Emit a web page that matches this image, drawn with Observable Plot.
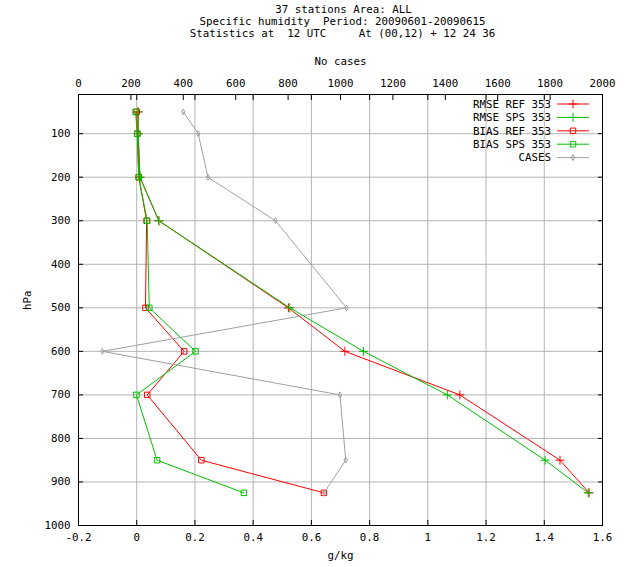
<!DOCTYPE html>
<html>
<head>
<meta charset="utf-8">
<script src="https://cdn.jsdelivr.net/npm/d3@7"></script>
<script src="https://cdn.jsdelivr.net/npm/@observablehq/plot@0.6"></script>
<style>
  html, body { margin: 0; padding: 0; background: #fff; }
  svg { display: block; }
</style>
</head>
<body>
<div id="chart"></div>
<script>
// ---- Data ----
const levels   = [50, 100, 200, 300, 500, 600, 700, 850, 925];           // hPa
const rmseRef  = [0.005, 0.005, 0.011, 0.076, 0.521, 0.715, 1.110, 1.454, 1.554];
const rmseSps  = [0.005, 0.005, 0.011, 0.076, 0.526, 0.779, 1.067, 1.403, 1.551];
const biasRef  = [0.000, 0.002, 0.007, 0.034, 0.030, 0.163, 0.036, 0.222, 0.643];
const biasSps  = [-0.004, 0.002, 0.007, 0.036, 0.043, 0.202, -0.001, 0.070, 0.368];
const cases    = [400, 457, 494, 752, 1023, 91, 998, 1020, 937];

const seriesNames  = ["RMSE REF 353", "RMSE SPS 353", "BIAS REF 353", "BIAS SPS 353"];
const casesName    = "CASES";
const titleLines   = ["37 stations Area: ALL",
                      "Specific humidity  Period: 20090601-20090615",
                      "Statistics at  12 UTC     At (00,12) + 12 24 36"];
const xLabel  = "g/kg";
const x2Label = "No cases";
const yLabel  = "hPa";

const xTicks     = [-0.2, 0, 0.2, 0.4, 0.6, 0.8, 1, 1.2, 1.4, 1.6];
const xTickText  = ["-0.2", "0", "0.2", "0.4", "0.6", "0.8", "1", "1.2", "1.4", "1.6"];
const xGrid      = [0, 0.2, 0.4, 0.6, 0.8, 1, 1.2, 1.4];
const yTicks     = [100, 200, 300, 400, 500, 600, 700, 800, 900, 1000];
const yGrid      = [100, 200, 300, 400, 500, 600, 700, 800, 900];
const caseTicks  = [0, 200, 400, 600, 800, 1000, 1200, 1400, 1600, 1800, 2000];

// ---- Styles ----
const RED = "#ff0000", GREEN = "#00c000", GRAY = "#a0a0a0", GRID = "#b4b4b4";
const seriesStyle = [
  {values: rmseRef, color: RED,   symbol: "plus",   r: 3},
  {values: rmseSps, color: GREEN, symbol: "plus",   r: 3},
  {values: biasRef, color: RED,   symbol: "square", r: 3.1},
  {values: biasSps, color: GREEN, symbol: "square", r: 3.1}
];

// cases (0..2000) are drawn on the top axis that spans the same width as -0.2..1.6
const X_MIN = -0.2, X_MAX = 1.6, C_MAX = 2000;
const caseToX = c => X_MIN + c * (X_MAX - X_MIN) / C_MAX;

const seriesData = seriesStyle.map((s, k) =>
  levels.map((p, i) => ({p, v: s.values[i], name: seriesNames[k]})));
const casesData = levels.map((p, i) => ({p, c: cases[i]}));

const FONT = "DejaVu Sans Mono";
const FS = "10.8px";

const marks = [
  Plot.gridX(xGrid, {stroke: GRID, strokeOpacity: 1}),
  Plot.gridY(yGrid, {stroke: GRID, strokeOpacity: 1}),
];
seriesStyle.forEach((s, k) => {
  marks.push(Plot.line(seriesData[k], {x: "v", y: "p", stroke: s.color, strokeWidth: 1}));
  marks.push(Plot.dot(seriesData[k], {x: "v", y: "p", stroke: s.color, fill: "none", symbol: s.symbol, r: s.r, strokeWidth: 1}));
});
marks.push(
  Plot.line(casesData, {x: d => caseToX(d.c), y: "p", stroke: GRAY, strokeWidth: 1}),
  Plot.dot(casesData, {x: d => caseToX(d.c), y: "p", stroke: GRAY, fill: "none", symbol: "diamond", r: 1.8, strokeWidth: 1}),
  Plot.frame({stroke: "black"}),
  // bottom axis (g/kg)
  Plot.axisX(xTicks, {anchor: "bottom", tickSize: -5, tickPadding: 13, label: null,
    tickFormat: (d, i) => xTickText[i], stroke: "black"}),
  // mirrored ticks on top
  Plot.axisX(xTicks, {anchor: "top", tickSize: -5, label: null, tickFormat: () => null, stroke: "black"}),
  // top axis (No cases)
  Plot.axisX(caseTicks.map(caseToX), {anchor: "top", tickSize: -5, tickPadding: 13, label: null,
    tickFormat: (d, i) => String(caseTicks[i]), stroke: "black"}),
  // left axis (hPa)
  Plot.axisY(yTicks, {anchor: "left", tickSize: -5, tickPadding: 13, label: null,
    tickFormat: d => String(d), stroke: "black"}),
  Plot.axisY(yTicks, {anchor: "right", tickSize: -5, label: null, tickFormat: () => null, stroke: "black"}),
  // axis titles
  Plot.text([xLabel],  {frameAnchor: "bottom", dy: 33, fontFamily: FONT, fontSize: FS}),
  Plot.text([x2Label], {frameAnchor: "top", dy: -37, fontFamily: FONT, fontSize: FS}),
  Plot.text([yLabel],  {frameAnchor: "left", dx: -51, rotate: -90, fontFamily: FONT, fontSize: FS}),
  // title lines
  Plot.text([titleLines[0]], {frameAnchor: "top", dx: 3, dy: -89, fontFamily: FONT, fontSize: FS}),
  Plot.text([titleLines[1]], {frameAnchor: "top", dx: 2, dy: -77, fontFamily: FONT, fontSize: FS}),
  Plot.text([titleLines[2]], {frameAnchor: "top", dx: 2, dy: -65, fontFamily: FONT, fontSize: FS})
);

const chart = Plot.plot({
  width: 628,
  height: 567,
  marginLeft: 78,
  marginRight: 26,
  marginTop: 94,
  marginBottom: 42,
  style: {fontFamily: FONT, fontSize: FS, background: "white", color: "black"},
  x: {domain: [X_MIN, X_MAX], axis: null},
  y: {domain: [10, 1000], reverse: true, axis: null},
  marks
});
document.getElementById("chart").append(chart);

// ---- Legend (inside plot, top right) ----
const legendEntries = seriesStyle.map((s, k) => ({name: seriesNames[k], color: s.color, symbol: s.symbol, r: s.r}))
  .concat([{name: casesName, color: GRAY, symbol: "diamond", r: 1.8}]);
const symMap = {plus: d3.symbolPlus, square: d3.symbolSquare, diamond: d3.symbolDiamond};
const svg = d3.select(chart);
const lg = svg.append("g").attr("font-family", FONT).attr("font-size", FS);
const LX = 551, L1 = 557, L2 = 589, LY0 = 104, LDY = 13.4;
legendEntries.forEach((e, i) => {
  const y = LY0 + i * LDY;
  lg.append("text").attr("x", LX).attr("y", y).attr("dy", "0.35em")
    .attr("text-anchor", "end").attr("fill", "black").text(e.name);
  lg.append("line").attr("x1", L1).attr("x2", L2).attr("y1", y).attr("y2", y)
    .attr("stroke", e.color).attr("stroke-width", 1);
  lg.append("path").attr("transform", `translate(${(L1 + L2) / 2},${y})`)
    .attr("d", d3.symbol(symMap[e.symbol], e.r * e.r * Math.PI)())
    .attr("fill", "none").attr("stroke", e.color);
});
</script>
</body>
</html>
